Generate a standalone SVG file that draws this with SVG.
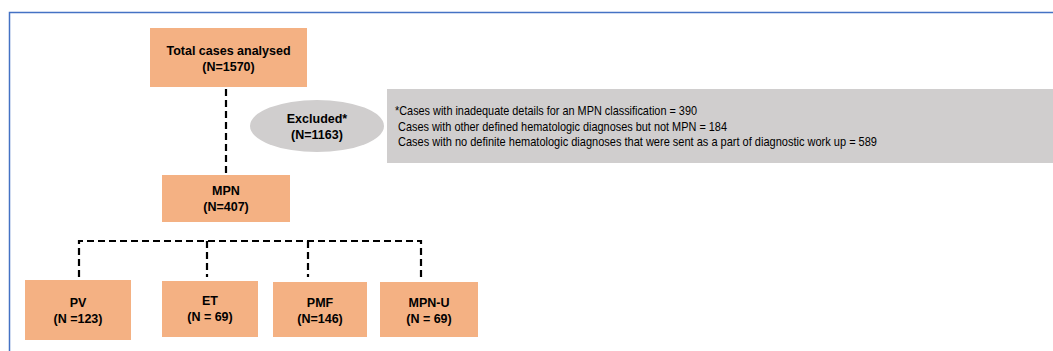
<svg xmlns="http://www.w3.org/2000/svg" width="1053" height="351" viewBox="0 0 1053 351">
<style>
.box{fill:#F4B183;}
.t{font-family:"Liberation Sans",Arial,sans-serif;font-size:12.5px;font-weight:bold;fill:#000;text-anchor:middle;}
.n{font-family:"Liberation Sans",Arial,sans-serif;font-size:13px;fill:#000;}
.c{stroke:#000;stroke-width:2.2;stroke-dasharray:7,4;fill:none;}
</style>
<rect width="1053" height="351" fill="#fff"/>
<path d="M9.5 351 V12.5 H1053" fill="none" stroke="#4472C4" stroke-width="1.5"/>
<g id="connectors">
<line class="c" x1="226" y1="89" x2="226" y2="175"/>
<path class="c" d="M79 277 V241 H421 V277"/>
<line class="c" x1="207" y1="241" x2="207" y2="277"/>
<line class="c" x1="308" y1="241" x2="308" y2="277"/>
</g>
<g id="total">
<rect class="box" x="150" y="28" width="157" height="59"/>
<text class="t" x="228.5" y="55">Total cases analysed</text>
<text class="t" x="228.5" y="71">(N=1570)</text>
</g>
<g id="excluded">
<ellipse cx="317" cy="126" rx="67" ry="26" fill="#D0CECE"/>
<text class="t" x="317" y="123">Excluded*</text>
<text class="t" x="317" y="139">(N=1163)</text>
</g>
<g id="excluded-details">
<rect x="387" y="89" width="666" height="74" fill="#D0CECE"/>
<text class="n" x="395" y="115" textLength="302" lengthAdjust="spacingAndGlyphs">*Cases with inadequate details for an MPN classification  = 390</text>
<text class="n" x="398" y="131" textLength="329" lengthAdjust="spacingAndGlyphs">Cases with other defined hematologic diagnoses  but not MPN = 184</text>
<text class="n" x="398" y="146" textLength="479" lengthAdjust="spacingAndGlyphs">Cases with no definite hematologic diagnoses  that were sent as a part of diagnostic work up = 589</text>
</g>
<g id="mpn">
<rect class="box" x="162" y="175" width="128" height="47"/>
<text class="t" x="226" y="195">MPN</text>
<text class="t" x="226" y="211">(N=407)</text>
</g>
<g id="pv">
<rect class="box" x="25" y="280" width="106" height="60"/>
<text class="t" x="78" y="307">PV</text>
<text class="t" x="78" y="323">(N =123)</text>
</g>
<g id="et">
<rect class="box" x="162" y="281" width="96" height="56"/>
<text class="t" x="210" y="305">ET</text>
<text class="t" x="210" y="321">(N = 69)</text>
</g>
<g id="pmf">
<rect class="box" x="273" y="282" width="94" height="55"/>
<text class="t" x="320" y="307">PMF</text>
<text class="t" x="320" y="323">(N=146)</text>
</g>
<g id="mpnu">
<rect class="box" x="380" y="282" width="98" height="55"/>
<text class="t" x="429" y="307">MPN-U</text>
<text class="t" x="429" y="323">(N = 69)</text>
</g>
</svg>
